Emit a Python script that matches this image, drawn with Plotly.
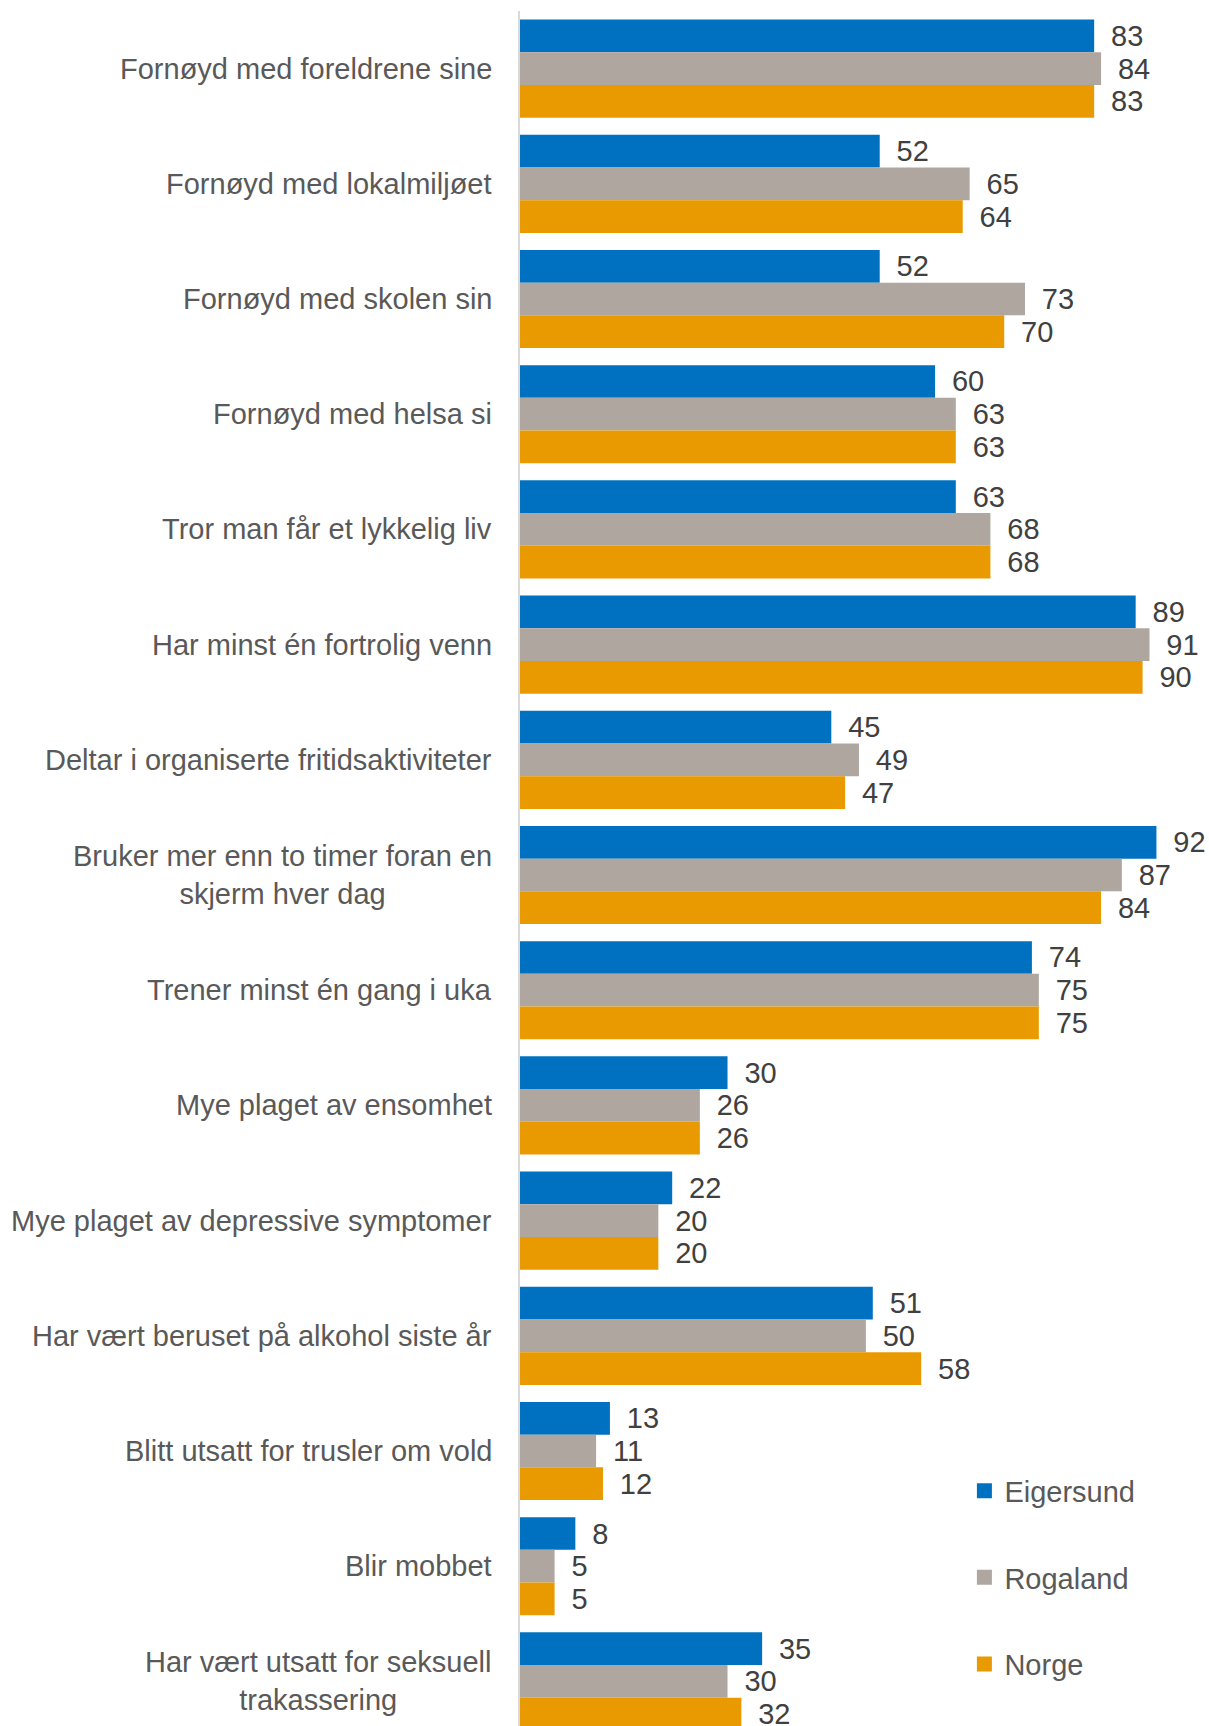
import plotly.graph_objects as go

categories = [
    "Fornøyd med foreldrene sine",
    "Fornøyd med lokalmiljøet",
    "Fornøyd med skolen sin",
    "Fornøyd med helsa si",
    "Tror man får et lykkelig liv",
    "Har minst én fortrolig venn",
    "Deltar i organiserte fritidsaktiviteter",
    "Bruker mer enn to timer foran en<br>skjerm hver dag",
    "Trener minst én gang i uka",
    "Mye plaget av ensomhet",
    "Mye plaget av depressive symptomer",
    "Har vært beruset på alkohol siste år",
    "Blitt utsatt for trusler om vold",
    "Blir mobbet",
    "Har vært utsatt for seksuell<br>trakassering",
]
eigersund = [83, 52, 52, 60, 63, 89, 45, 92, 74, 30, 22, 51, 13, 8, 35]
rogaland = [84, 65, 73, 63, 68, 91, 49, 87, 75, 26, 20, 50, 11, 5, 30]
norge = [83, 64, 70, 63, 68, 90, 47, 84, 75, 26, 20, 58, 12, 5, 32]

series = [
    ("Eigersund", eigersund, "#0070C0"),
    ("Rogaland", rogaland, "#AFA79F"),
    ("Norge", norge, "#E99A00"),
]

FONT = "Liberation Sans, Arial, sans-serif"

fig = go.Figure()
for i, (name, vals, col) in enumerate(series):
    fig.add_trace(go.Bar(
        name=name, y=categories, x=vals, orientation="h",
        marker=dict(color=col, line=dict(width=0)),
        text=vals, texttemplate="\u00a0\u2009%{x}", textposition="outside",
        textfont=dict(family=FONT, size=29, color="#404040"),
        constraintext="none", cliponaxis=False,
        showlegend=False,
    ))
for i, (name, vals, col) in enumerate(series):
    fig.add_trace(go.Scatter(
        name=name, x=[None], y=[None], mode="markers",
        marker=dict(symbol="square", size=15, color=col, line=dict(width=0)),
        legendgroup=name, showlegend=True, hoverinfo="skip",
    ))

for c in categories:
    fig.add_annotation(
        x=0, y=c, xref="x", yref="y", text=c, showarrow=False,
        xanchor="right", yanchor="middle", align="center", xshift=-26,
        font=dict(family=FONT, size=29, color="#595959"),
    )

fig.update_layout(
    width=1209, height=1726,
    margin=dict(l=520, r=0, t=11, b=0),
    barmode="group", bargap=0.148, bargroupgap=0,
    plot_bgcolor="white", paper_bgcolor="white",
    font=dict(family=FONT, size=29, color="#595959"),
    legend=dict(
        x=0.645, y=0.152, xanchor="left", yanchor="top",
        traceorder="grouped", tracegroupgap=46, itemsizing="trace",
        font=dict(family=FONT, size=29, color="#595959"),
        bgcolor="rgba(0,0,0,0)",
    ),
    xaxis=dict(range=[0, 99.6], showgrid=False, zeroline=False,
               showticklabels=False, showline=False, fixedrange=True),
    yaxis=dict(categoryorder="array", categoryarray=categories,
               range=[14.387, -0.5], showticklabels=False, showgrid=False,
               showline=True, linecolor="#D9D9D9", linewidth=2,
               zeroline=False, ticks=""),
)

fig.write_html(
    "out.html",
    config={"displayModeBar": False},
    post_script=(
        "document.body.style.margin='0';"
        "document.documentElement.style.overflow='hidden';"
        "document.body.style.overflow='hidden';"
    ),
)
